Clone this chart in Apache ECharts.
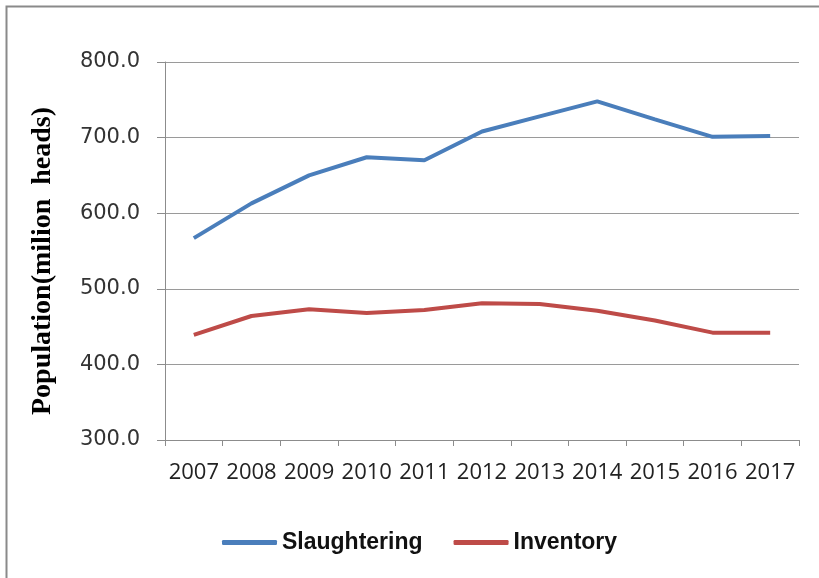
<!DOCTYPE html>
<html>
<head>
<meta charset="utf-8">
<script src="https://cdn.jsdelivr.net/npm/echarts@6/dist/echarts.min.js"></script>
<style>
html,body{margin:0;padding:0;background:#fff;}
#chart{width:819px;height:578px;}
</style>
</head>
<body>
<div id="chart"></div>
<script>
const years = ['2007','2008','2009','2010','2011','2012','2013','2014','2015','2016','2017'];
const slaughtering = [567, 613, 650, 674, 670, 708, 728, 748, 724, 701, 702];
const inventory = [439, 464, 473, 468, 472, 481, 480, 471, 458, 442, 442];
const yTicks = { min: 300, max: 800, interval: 100 };
const seriesNames = ['Slaughtering', 'Inventory'];
const yTitle = 'Population(milion  heads)';

const chart = echarts.init(document.getElementById('chart'), null, { renderer: 'canvas' });
chart.setOption({
  animation: false,
  backgroundColor: '#fff',
  graphic: [{
    type: 'rect',
    shape: { x: 6.5, y: 6.5, width: 1000, height: 1000 },
    style: { fill: 'none', stroke: '#8a8a8a', lineWidth: 2 },
    silent: true
  }, {
    type: 'text',
    x: 43, y: 261,
    rotation: Math.PI / 2,
    style: {
      text: yTitle,
      fontFamily: 'Liberation Serif', fontWeight: 'bold', fontSize: 28, fill: '#000',
      align: 'center', verticalAlign: 'middle'
    },
    silent: true
  }],
  grid: { left: 165, top: 62, right: 20, bottom: 138 },
  legend: {
    data: seriesNames,
    bottom: 19,
    left: 217,
    icon: 'roundRect',
    itemWidth: 55,
    itemHeight: 5,
    itemGap: 31,
    textStyle: { fontFamily: 'Liberation Sans', fontWeight: 'bold', fontSize: 23, color: '#111' }
  },
  xAxis: {
    type: 'category',
    data: years,
    boundaryGap: true,
    axisLine: { lineStyle: { color: '#8c8c8c', width: 1 } },
    axisTick: { show: true, length: 6, alignWithLabel: false, lineStyle: { color: '#8c8c8c' } },
    axisLabel: { margin: 22, fontFamily: 'Open Sans', fontSize: 22, color: '#222', interval: 0 }
  },
  yAxis: {
    type: 'value',
    min: yTicks.min, max: yTicks.max, interval: yTicks.interval,
    axisLine: { show: true, lineStyle: { color: '#8c8c8c', width: 1 } },
    axisTick: { show: true, length: 8, lineStyle: { color: '#8c8c8c' } },
    splitLine: { show: true, lineStyle: { color: '#9a9a9a', width: 1 } },
    axisLabel: { margin: 25, fontFamily: 'DejaVu Sans', fontSize: 21, color: '#333', formatter: v => v.toFixed(1) }
  },
  series: [
    { name: seriesNames[0], type: 'line', data: slaughtering, symbol: 'none', lineStyle: { color: '#4a7ebb', width: 4 }, itemStyle: { color: '#4a7ebb' } },
    { name: seriesNames[1], type: 'line', data: inventory, symbol: 'none', lineStyle: { color: '#be4b48', width: 4 }, itemStyle: { color: '#be4b48' } }
  ]
});
</script>
</body>
</html>
